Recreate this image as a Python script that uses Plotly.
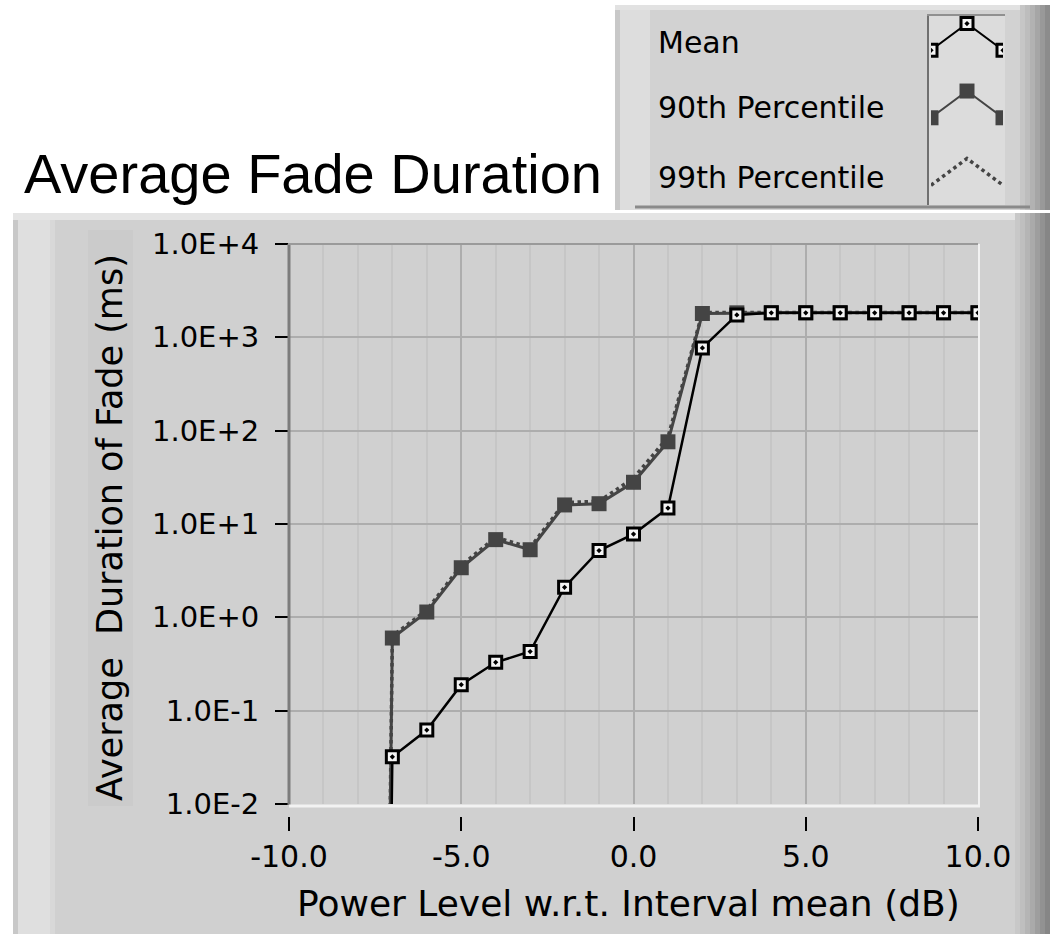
import plotly.graph_objects as go

# ---------------- data ----------------
power_db = [-8, -7, -6, -5, -4, -3, -2, -1, 0, 1, 2, 3, 4, 5, 6, 7, 8, 9, 10]
# value at -8 dB is ~0 (off the log scale) -> tiny positive stand-in so the
# line drops vertically to the bottom at -7 dB as in the original
mean_ms = [1e-30, 0.032, 0.062, 0.19, 0.33, 0.43, 2.1, 5.2, 7.8, 14.8, 770,
           1740, 1830, 1830, 1830, 1830, 1830, 1830, 1830]
p90_ms = [1e-30, 0.60, 1.14, 3.4, 6.8, 5.3, 16, 16.5, 28, 76, 1800,
          1830, 1830, 1830, 1830, 1830, 1830, 1830, 1830]
p99_ms = [1e-30, 0.63, 1.2, 3.6, 7.2, 5.6, 17, 17.5, 31, 85, 1850,
          1850, 1850, 1850, 1850, 1850, 1850, 1850, 1850]

series_names = ["Mean", "90th Percentile", "99th Percentile"]

y_tickvals = [1e-2, 1e-1, 1e0, 1e1, 1e2, 1e3, 1e4]
y_ticktext = ["1.0E-2", "1.0E-1", "1.0E+0", "1.0E+1", "1.0E+2", "1.0E+3", "1.0E+4"]
x_tickvals = [-10, -5, 0, 5, 10]
x_ticktext = ["-10.0", "-5.0", "0.0", "5.0", "10.0"]
x_minor = [-9, -8, -7, -6, -4, -3, -2, -1, 1, 2, 3, 4, 6, 7, 8, 9]

# legend glyph: a small "^" shape drawn per row
glyph_x = [0, 1, 2]
glyph_shape = [0, 1, 0]
glyph_rows = [2.43, 1.37, 0.31]
glyph_h = 0.42

# ---------------- geometry helpers ----------------
W, H = 1050, 934
def px(x):
    return x / W
def py(y):
    return 1 - y / H

FONT = "DejaVu Sans"
DARK = "#444444"

fig = go.Figure()

# 99th percentile: dotted gray line
fig.add_trace(go.Scatter(x=power_db, y=p99_ms, mode="lines", name=series_names[2],
                         line=dict(color=DARK, width=3.5, dash="dot"), showlegend=False))
# 90th percentile: solid gray line with filled squares
fig.add_trace(go.Scatter(x=power_db, y=p90_ms, mode="lines+markers", name=series_names[1],
                         line=dict(color=DARK, width=3),
                         marker=dict(symbol="square", size=15, color=DARK),
                         showlegend=False))
# mean: black line with open squares
fig.add_trace(go.Scatter(x=power_db, y=mean_ms, mode="lines+markers", name=series_names[0],
                         line=dict(color="black", width=2.5),
                         marker=dict(symbol="square-dot", size=12, color="#f4f4f4",
                                     line=dict(color="black", width=3)),
                         showlegend=False))
# empty trace to create the detached x tick axis
fig.add_trace(go.Scatter(x=[], y=[], xaxis="x2", yaxis="y", showlegend=False))

# legend glyphs
gl_styles = [
    dict(mode="lines+markers", line=dict(color="black", width=2),
         marker=dict(symbol="square-dot", size=12, color="#f4f4f4",
                     line=dict(color="black", width=3))),
    dict(mode="lines+markers", line=dict(color=DARK, width=2),
         marker=dict(symbol="square", size=15, color=DARK)),
    dict(mode="lines", line=dict(color=DARK, width=3.5, dash="dot")),
]
for base, st in zip(glyph_rows, gl_styles):
    fig.add_trace(go.Scatter(x=glyph_x, y=[base + v * glyph_h for v in glyph_shape],
                             xaxis="x3", yaxis="y3", showlegend=False,
                             hoverinfo="skip", **st))

shapes = []
def rect(x0, y0, x1, y1, color, layer="below"):
    shapes.append(dict(type="rect", xref="paper", yref="paper",
                       x0=px(x0), x1=px(x1), y0=py(y1), y1=py(y0),
                       fillcolor=color, line=dict(width=0), layer=layer))
def line(x0, y0, x1, y1, color, width, layer="below"):
    shapes.append(dict(type="line", xref="paper", yref="paper",
                       x0=px(x0), x1=px(x1), y0=py(y0), y1=py(y1),
                       line=dict(color=color, width=width), layer=layer))

# legend panel
rect(615, 5, 1050, 210, "#d2d2d2")
rect(615, 5, 620, 210, "#c8c8c8")
rect(620, 5, 650, 210, "#dddddd")
rect(615, 5, 1030, 10, "#e2e2e2")
for i, c in enumerate(["#c6c6c6", "#bdbdbd", "#b2b2b2", "#a6a6a6", "#999999", "#8c8c8c"]):
    rect(1020 + i * 5, 5, 1025 + i * 5, 210, c)
line(635, 207, 1030, 207, "#8a8a8a", 3)
rect(927, 14, 1005, 205, "#dcdcdc")
line(928, 14, 928, 205, "#707070", 2)
line(927, 15, 1005, 15, "#909090", 2)

# main panel
rect(13, 213, 1050, 934, "#d0d0d0")
rect(13, 213, 18, 934, "#c8c8c8")
rect(18, 213, 50, 934, "#dfdfdf")
rect(50, 213, 55, 934, "#d8d8d8")
rect(13, 213, 1020, 220, "#e4e4e4")
for i, c in enumerate(["#c8c8c8", "#bfbfbf", "#b5b5b5", "#aaaaaa", "#9e9e9e", "#929292", "#868686"]):
    rect(1015 + i * 5, 213, 1020 + i * 5, 934, c)
# y-title label background
rect(88, 230, 133, 806, "#cbcbcb")

# plot-area frame (3D inset look)
line(289, 244, 289, 805, "#7c7c7c", 3, "above")
line(288, 244, 978, 244, "#9a9a9a", 2, "above")
line(289, 806, 980, 806, "#f2f2f2", 3, "above")
line(979, 244, 979, 806, "#f2f2f2", 2, "above")

annotations = [
    dict(text="Average Fade Duration", x=px(22), y=py(174), xref="paper", yref="paper",
         xanchor="left", yanchor="middle", showarrow=False,
         font=dict(family="Liberation Sans", size=56, color="black")),
    dict(text="Power Level w.r.t. Interval mean (dB)", x=px(628), y=py(903),
         xref="paper", yref="paper", xanchor="center", yanchor="middle", showarrow=False,
         font=dict(family=FONT, size=36, color="black")),
    dict(text="Average  Duration of Fade (ms)", x=px(110), y=py(528), textangle=-90,
         xref="paper", yref="paper", xanchor="center", yanchor="middle", showarrow=False,
         font=dict(family=FONT, size=35, color="black")),
]
for name, ypix in zip(series_names, [42, 108, 177]):
    annotations.append(dict(text=name, x=px(656), y=py(ypix), xref="paper", yref="paper",
                            xanchor="left", yanchor="middle", showarrow=False,
                            font=dict(family=FONT, size=30, color="black")))

fig.update_layout(
    template="none",
    width=W, height=H, margin=dict(l=0, r=0, t=0, b=0, pad=0), autosize=False,
    paper_bgcolor="white", plot_bgcolor="#dadada",
    showlegend=False, shapes=shapes, annotations=annotations,
    xaxis=dict(domain=[px(289), px(978)], range=[-10, 10], tickvals=x_tickvals,
               showticklabels=False, ticks="", showgrid=True, gridcolor="#adadad",
               gridwidth=2, zeroline=False, showline=False, automargin=False,
               minor=dict(tickvals=x_minor, showgrid=True, gridcolor="#c6c6c6",
                          gridwidth=2, ticks="")),
    xaxis2=dict(overlaying="x", anchor="free", position=py(816), range=[-10, 10],
                domain=[px(289), px(978)], automargin=False,
                tickvals=x_tickvals, ticktext=x_ticktext, ticks="outside", ticklen=14,
                tickwidth=2, tickcolor="black", showgrid=False, zeroline=False,
                showline=False, side="bottom",
                tickfont=dict(family=FONT, size=30, color="black")),
    yaxis=dict(domain=[py(804), py(244)], type="log", range=[-2, 4], automargin=False,
               tickvals=y_tickvals, ticktext=y_ticktext, ticks="outside", ticklen=13,
               tickwidth=2, tickcolor="black", ticklabelstandoff=10,
               showgrid=True, gridcolor="#adadad", gridwidth=2, zeroline=False,
               showline=False, tickfont=dict(family=FONT, size=29, color="black")),
    xaxis3=dict(domain=[px(931), px(1003)], range=[0, 2], anchor="y3", visible=False,
                automargin=False),
    yaxis3=dict(domain=[py(205), py(14)], range=[0, 3], anchor="x3", visible=False,
                automargin=False),
)

fig.write_html("out.html")
